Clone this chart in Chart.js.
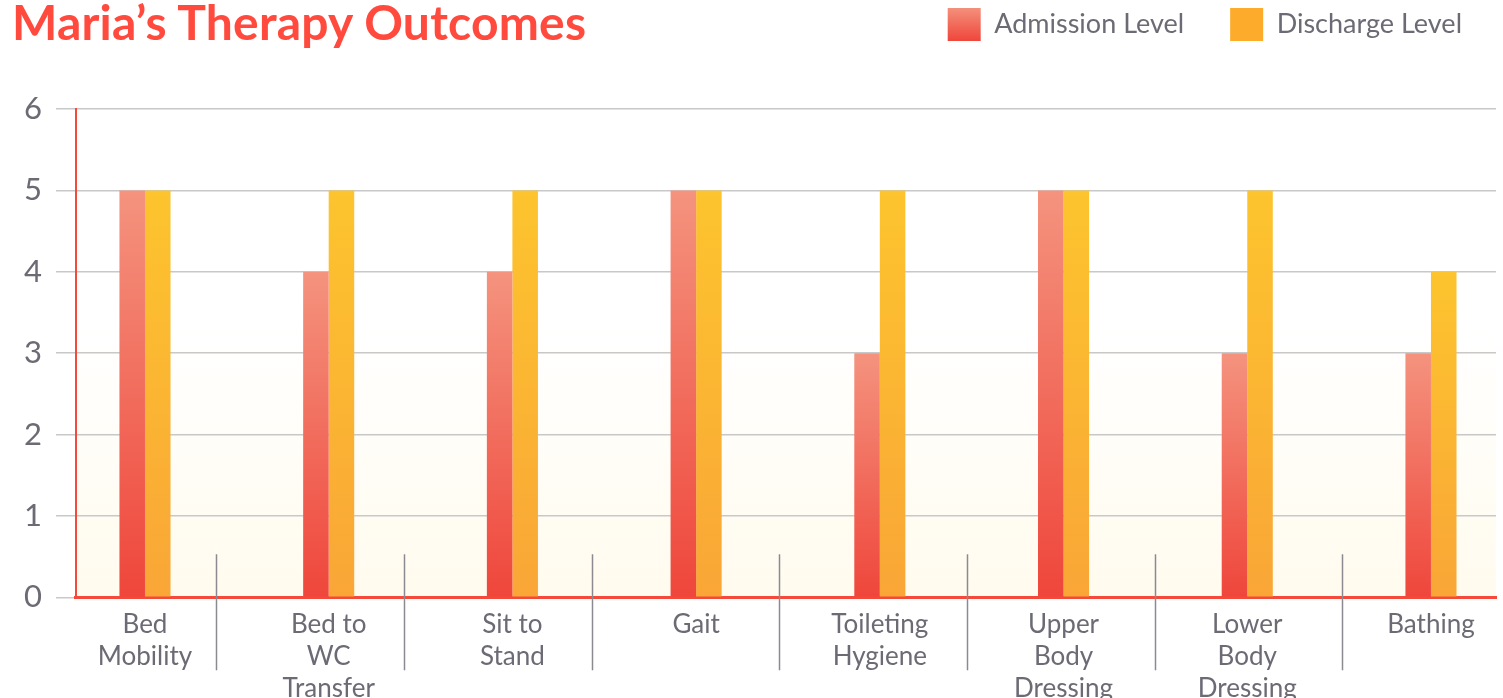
<!DOCTYPE html>
<html>
<head>
<meta charset="utf-8">
<script src="https://cdn.jsdelivr.net/npm/chart.js@4/dist/chart.umd.min.js"></script>
<style>
  html, body { margin: 0; padding: 0; background: #ffffff; }
  #wrap { position: relative; width: 1503px; height: 698px; overflow: hidden; }
  #title { position: absolute; left: 12px; top: -7px; margin: 0; font-family: Lato, sans-serif; font-weight: 700; font-size: 48px; color: #ff4a3d; letter-spacing: 0.2px; }
  canvas { position: absolute; left: 0; top: 0; }
</style>
</head>
<body>
<div id="wrap">
  <canvas id="c" width="1503" height="698"></canvas>
  <h1 id="title">Maria’s Therapy Outcomes</h1>
</div>
<script>
const categories = [
  ["Bed", "Mobility"],
  ["Bed to", "WC", "Transfer"],
  ["Sit to", "Stand"],
  ["Gait"],
  ["Toileting", "Hygiene"],
  ["Upper", "Body", "Dressing"],
  ["Lower", "Body", "Dressing"],
  ["Bathing"]
];
const admissionLevel = [5, 4, 4, 5, 3, 5, 3, 3];
const dischargeLevel = [5, 5, 5, 5, 5, 5, 5, 4];
const yTicks = [0, 1, 2, 3, 4, 5, 6];
const seriesNames = ["Admission Level", "Discharge Level"];

const admissionColors = ["#f4937e", "#ef463b"];
const dischargeColors = ["#fdc42e", "#f9a637"];

function toPoints(arr) { return arr.map((v, i) => ({ x: i, y: v })); }

function barGradient(colors) {
  return function (ctx) {
    const chart = ctx.chart;
    if (!chart.chartArea || !ctx.parsed) return colors[1];
    const ys = chart.scales.y;
    const top = ys.getPixelForValue(ctx.parsed.y);
    const bot = ys.getPixelForValue(0);
    if (!isFinite(top) || !isFinite(bot) || top === bot) return colors[1];
    const g = chart.ctx.createLinearGradient(0, top, 0, bot);
    g.addColorStop(0, colors[0]);
    g.addColorStop(1, colors[1]);
    return g;
  };
}

const bgPlugin = {
  id: 'bgGrad',
  beforeDraw(chart) {
    const a = chart.chartArea; if (!a) return;
    const c = chart.ctx;
    const g = c.createLinearGradient(0, a.top, 0, a.bottom);
    g.addColorStop(0, '#ffffff');
    g.addColorStop(0.45, '#ffffff');
    g.addColorStop(1, '#fffbee');
    c.save(); c.fillStyle = g; c.fillRect(a.left, a.top, a.right - a.left, a.bottom - a.top); c.restore();
  }
};

const legendSpace = {
  id: 'legendSpace',
  afterInit(chart, args, opts) {
    const lg = chart.legend;
    if (!lg || lg._spaced) return;
    const orig = lg.fit;
    lg.fit = function () { orig.call(this); this.height += opts.extra; };
    lg._spaced = true;
  },
  afterLayout(chart, args, opts) {
    const lg = chart.legend;
    if (!lg) return;
    lg.left += opts.dx; lg.right += opts.dx;
  }
};

const sepPlugin = {
  id: 'separators',
  afterDraw(chart, args, opts) {
    const xs = chart.scales.x, a = chart.chartArea, c = chart.ctx;
    c.save();
    c.strokeStyle = '#8a8a90';
    c.lineWidth = 1.5;
    opts.values.forEach(v => {
      const px = Math.round(xs.getPixelForValue(v)) + 0.5;
      c.beginPath(); c.moveTo(px, a.bottom - 43); c.lineTo(px, a.bottom + 73); c.stroke();
    });
    c.restore();
  }
};

new Chart(document.getElementById('c'), {
  type: 'bar',
  data: {
    datasets: [
      { label: seriesNames[0], data: toPoints(admissionLevel), backgroundColor: barGradient(admissionColors), borderWidth: 0 },
      { label: seriesNames[1], data: toPoints(dischargeLevel), backgroundColor: barGradient(dischargeColors), borderWidth: 0 }
    ]
  },
  plugins: [bgPlugin, sepPlugin, legendSpace],
  options: {
    responsive: false,
    animation: false,
    devicePixelRatio: 1,
    categoryPercentage: 0.278,
    barPercentage: 1.0,
    layout: { padding: { left: 10, right: 7, top: -38, bottom: -18 } },
    plugins: {
      title: { display: false },
      tooltip: { enabled: false },
      separators: { values: [0.387, 1.41, 2.433, 3.45, 4.475, 5.5, 6.516] },
      legendSpace: { extra: 58, dx: 12 },
      legend: {
        position: 'top',
        align: 'end',
        labels: {
          boxWidth: 33,
          boxHeight: 33,
          padding: 46,
          color: '#6b6b75',
          font: { family: 'Lato', size: 27 },
          generateLabels(chart) {
            const c = chart.ctx;
            const g1 = c.createLinearGradient(0, 8, 0, 41);
            g1.addColorStop(0, '#f4907b'); g1.addColorStop(1, '#ef463b');
            return chart.data.datasets.map((ds, i) => ({
              text: ds.label,
              fillStyle: i === 0 ? g1 : '#fcab2a',
              strokeStyle: 'rgba(0,0,0,0)',
              lineWidth: 0,
              hidden: false,
              datasetIndex: i,
              fontColor: '#6b6b75'
            }));
          }
        }
      }
    },
    scales: {
      x: {
        type: 'linear',
        offset: false,
        min: -0.3756,
        max: 7.354,
        afterBuildTicks(scale) { scale.ticks = categories.map((c, i) => ({ value: i })); },
        grid: { display: false, drawTicks: false, offset: false },
        border: { display: true, color: '#f5493c', width: 3 },
        ticks: {
          autoSkip: false,
          maxRotation: 0,
          padding: 11,
          color: '#6b6b75',
          font: { family: 'Lato', size: 26, lineHeight: 1.24 },
          callback(value, index) { return categories[index]; }
        }
      },
      y: {
        min: 0,
        max: 6,
        afterBuildTicks(scale) { scale.ticks = yTicks.map(v => ({ value: v })); },
        grid: { color: '#c8c8c8', lineWidth: 1.5, tickLength: 20, drawTicks: true },
        border: { display: true, color: '#f5493c', width: 2 },
        ticks: {
          padding: 14,
          color: '#6b6b75',
          font: { family: 'Lato', size: 31 }
        }
      }
    }
  }
});
</script>
</body>
</html>
